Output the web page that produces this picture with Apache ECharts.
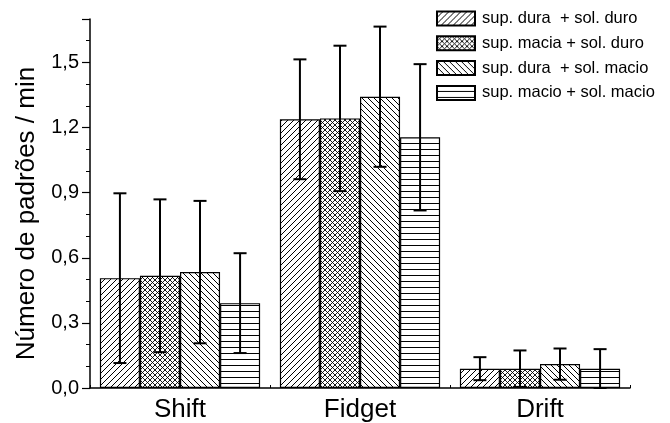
<!DOCTYPE html>
<html>
<head>
<meta charset="utf-8">
<script src="https://cdn.jsdelivr.net/npm/echarts@6/dist/echarts.min.js"></script>
<style>
  html, body { margin: 0; padding: 0; background: #fff; }
  #chart { width: 670px; height: 423px; }
</style>
</head>
<body>
<div id="chart"></div>
<script>
// Movement patterns per minute, by surface / sole combination
const categories = ['Shift', 'Fidget', 'Drift'];
const seriesNames = [
  'sup. dura  + sol. duro',
  'sup. macia + sol. duro',
  'sup. dura  + sol. macio',
  'sup. macio + sol. macio'
];
const duraDuroMean   = [0.506, 1.238, 0.089];
const maciaDuroMean  = [0.517, 1.242, 0.089];
const duraMacioMean  = [0.534, 1.342, 0.110];
const macioMacioMean = [0.391, 1.155, 0.089];
const duraDuroSd     = [0.391, 0.276, 0.053];
const maciaDuroSd    = [0.352, 0.335, 0.084];
const duraMacioSd    = [0.328, 0.323, 0.072];
const macioMacioSd   = [0.230, 0.337, 0.090];
const yTicks = [0, 0.3, 0.6, 0.9, 1.2, 1.5];

const means = [duraDuroMean, maciaDuroMean, duraMacioMean, macioMacioMean];
const sds = [duraDuroSd, maciaDuroSd, duraMacioSd, macioMacioSd];

// Hatch fills drawn on small tiles
function makeHatch(kind) {
  const s = kind === 'cross' ? 5 : 6;
  const c = document.createElement('canvas');
  c.width = s; c.height = s;
  const g = c.getContext('2d');
  g.fillStyle = '#fff';
  g.fillRect(0, 0, s, s);
  g.strokeStyle = '#000';
  g.lineWidth = kind === 'cross' ? 0.9 : 1;
  function fwd() {
    g.beginPath();
    g.moveTo(-1, s + 1); g.lineTo(s + 1, -1);
    g.moveTo(-1, 1); g.lineTo(1, -1);
    g.moveTo(s - 1, s + 1); g.lineTo(s + 1, s - 1);
    g.stroke();
  }
  function back() {
    g.beginPath();
    g.moveTo(-1, -1); g.lineTo(s + 1, s + 1);
    g.moveTo(s - 1, -1); g.lineTo(s + 1, 1);
    g.moveTo(-1, s - 1); g.lineTo(1, s + 1);
    g.stroke();
  }
  if (kind === 'fwd') fwd();
  else if (kind === 'back') back();
  else if (kind === 'cross') { fwd(); back(); }
  else {
    g.beginPath();
    g.moveTo(0, s - 0.5); g.lineTo(s, s - 0.5);
    g.stroke();
  }
  return { image: c, repeat: 'repeat' };
}
const fills = [makeHatch('fwd'), makeHatch('cross'), makeHatch('back'), makeHatch('horiz')];

const CAT_GAP = 0.11;
const barSeries = seriesNames.map((name, i) => ({
  name: name,
  type: 'bar',
  data: means[i],
  barGap: '0%',
  barCategoryGap: (CAT_GAP * 100) + '%',
  itemStyle: { color: fills[i], borderColor: '#000', borderWidth: 1.2 },
  emphasis: { disabled: true },
  z: 2
}));

const errorSeries = seriesNames.map((name, i) => ({
  type: 'custom',
  name: name + ' sd',
  data: categories.map((c, k) => [k, means[i][k], sds[i][k]]),
  z: 5,
  silent: true,
  renderItem: function (params, api) {
    const k = api.value(0), m = api.value(1), d = api.value(2);
    const band = api.size([1, 0])[0];
    const bw = band * (1 - CAT_GAP) / seriesNames.length;
    const x = api.coord([k, m])[0] + (i - (seriesNames.length - 1) / 2) * bw;
    const yt = api.coord([k, m + d])[1];
    const yb = api.coord([k, Math.max(0, m - d)])[1];
    const cap = 6.5;
    const st = { stroke: '#000', lineWidth: 2 };
    return {
      type: 'group',
      children: [
        { type: 'line', shape: { x1: x, y1: yt, x2: x, y2: yb }, style: st },
        { type: 'line', shape: { x1: x - cap, y1: yt, x2: x + cap, y2: yt }, style: st },
        { type: 'line', shape: { x1: x - cap, y1: yb, x2: x + cap, y2: yb }, style: st }
      ]
    };
  }
}));

const FONT = 'Liberation Sans, Arial, sans-serif';
const chart = echarts.init(document.getElementById('chart'), null, { renderer: 'canvas' });
chart.setOption({
  animation: false,
  backgroundColor: '#fff',
  textStyle: { fontFamily: FONT, color: '#000' },
  grid: { left: 90, right: 40, top: 19, bottom: 35 },
  legend: {
    data: seriesNames,
    orient: 'vertical',
    left: 431,
    top: 5,
    itemWidth: 38,
    itemHeight: 14,
    itemGap: 7.8,
    icon: 'rect',
    selectedMode: false,
    textStyle: { fontSize: 16.5, lineHeight: 17, color: '#000', fontFamily: FONT, padding: [0, 0, 0, 2] }
  },
  xAxis: {
    type: 'category',
    data: categories,
    axisLine: { lineStyle: { color: '#000', width: 1.5 } },
    axisTick: { show: true, inside: true, length: 3, lineStyle: { color: '#000', width: 1 } },
    axisLabel: { fontSize: 26, color: '#000', margin: 9, fontFamily: FONT }
  },
  yAxis: {
    type: 'value',
    min: 0,
    max: 1.7,
    interval: 0.3,
    name: 'Número de padrões / min',
    nameLocation: 'middle',
    nameGap: 46,
    nameTextStyle: { fontSize: 26, color: '#000', fontFamily: FONT, padding: [0, 20, 0, 0] },
    splitLine: { show: false },
    axisLine: { show: true, lineStyle: { color: '#000', width: 1.5 } },
    axisTick: { show: true, length: 8, lineStyle: { color: '#000', width: 1.2 } },
    minorTick: { show: true, splitNumber: 3, length: 4, lineStyle: { color: '#000', width: 1 } },
    axisLabel: {
      fontSize: 20, color: '#000', margin: 11, showMaxLabel: false, fontFamily: FONT,
      formatter: v => yTicks.some(t => Math.abs(t - v) < 1e-6) ? v.toFixed(1).replace('.', ',') : ''
    }
  },
  series: barSeries.concat(errorSeries)
});
</script>
</body>
</html>
